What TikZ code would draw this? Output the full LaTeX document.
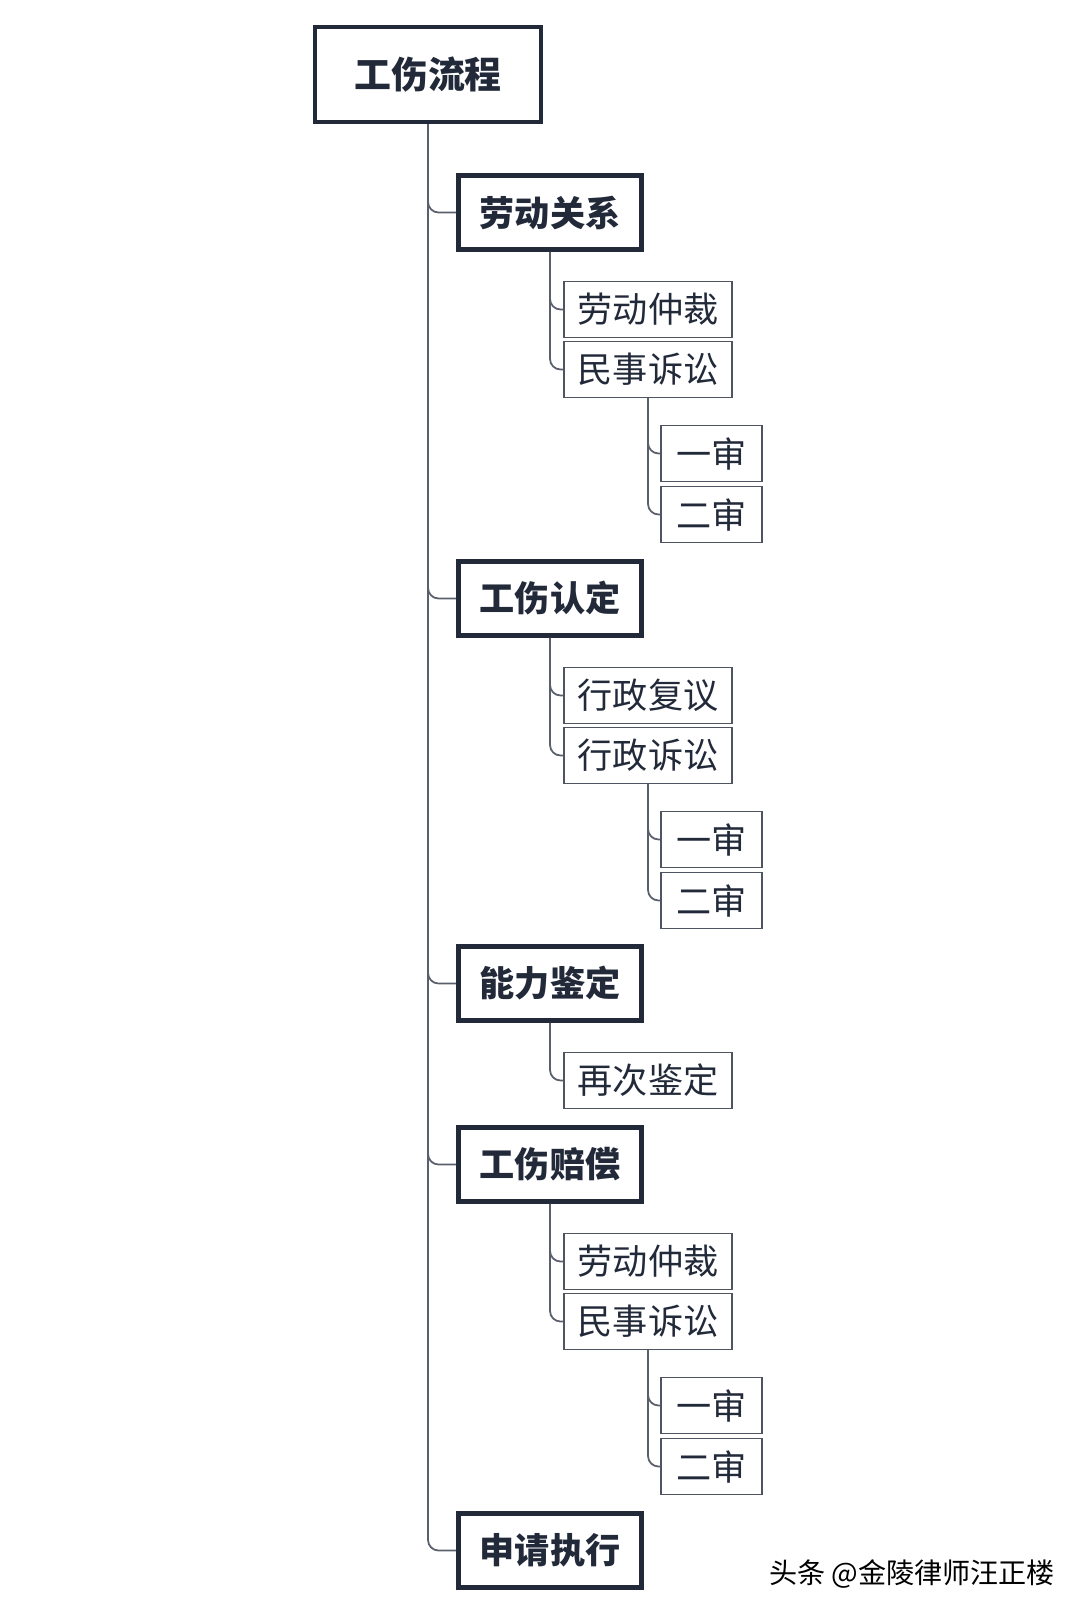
\documentclass[tikz,border=0pt]{standalone}
\usepackage{fontspec}
\setmainfont{Noto Sans CJK SC}
\usetikzlibrary{positioning}
\definecolor{navy}{HTML}{222A3A}
\tikzset{rootbox/.style={draw=navy,line width=1.4pt,minimum width=2.26cm,minimum height=0.95cm,font=\bfseries\fontsize{10.5}{12}\selectfont,text=navy},
	mainbox/.style={draw=navy,line width=1.3pt,minimum width=1.83cm,minimum height=0.74cm,font=\bfseries\fontsize{10}{12}\selectfont,text=navy},
	subbox/.style={draw=navy!80,line width=0.4pt,minimum width=1.68cm,minimum height=0.53cm,font=\fontsize{10}{12}\selectfont,text=navy},
	leafbox/.style={draw=navy!80,line width=0.4pt,minimum width=1.01cm,minimum height=0.53cm,font=\fontsize{10}{12}\selectfont,text=navy},
	link/.style={draw=navy!75,line width=0.5pt,rounded corners=3pt}}
\begin{document}
\begin{tikzpicture}[x=1cm,y=1cm]
	\useasboundingbox (0,0) rectangle (10.8,-16.2);
	\node[rootbox] (root) at (4.28,-0.745) {工伤流程};
	% labour relation
	\node[mainbox] (m1) at (5.5,-2.125) {劳动关系};
	\node[subbox] (m1a) at (6.48,-3.095) {劳动仲裁};
	\node[subbox] (m1b) at (6.48,-3.695) {民事诉讼};
	\node[leafbox] (m1b1) at (7.115,-4.535) {一审};
	\node[leafbox] (m1b2) at (7.115,-5.145) {二审};
	% injury recognition
	\node[mainbox] (m2) at (5.5,-5.985) {工伤认定};
	\node[subbox] (m2a) at (6.48,-6.955) {行政复议};
	\node[subbox] (m2b) at (6.48,-7.555) {行政诉讼};
	\node[leafbox] (m2b1) at (7.115,-8.395) {一审};
	\node[leafbox] (m2b2) at (7.115,-9.005) {二审};
	% ability assessment
	\node[mainbox] (m3) at (5.5,-9.835) {能力鉴定};
	\node[subbox] (m3a) at (6.48,-10.805) {再次鉴定};
	% compensation
	\node[mainbox] (m4) at (5.5,-11.645) {工伤赔偿};
	\node[subbox] (m4a) at (6.48,-12.615) {劳动仲裁};
	\node[subbox] (m4b) at (6.48,-13.215) {民事诉讼};
	\node[leafbox] (m4b1) at (7.115,-14.055) {一审};
	\node[leafbox] (m4b2) at (7.115,-14.665) {二审};
	% execution
	\node[mainbox] (m5) at (5.5,-15.505) {申请执行};
	\node[font=\fontsize{8}{10}\selectfont,text=black] (mark) at (9.12,-15.74) {头条 @金陵律师汪正楼};
	\foreach \c in {m1,m2,m3,m4,m5}
		\draw[link] (root.south) |- (\c.west);
	\foreach \p/\c in {m1/m1a,m1/m1b,m1b/m1b1,m1b/m1b2,m2/m2a,m2/m2b,m2b/m2b1,m2b/m2b2,m3/m3a,m4/m4a,m4/m4b,m4b/m4b1,m4b/m4b2}
		\draw[link] (\p.south) |- (\c.west);
\end{tikzpicture}
\end{document}
